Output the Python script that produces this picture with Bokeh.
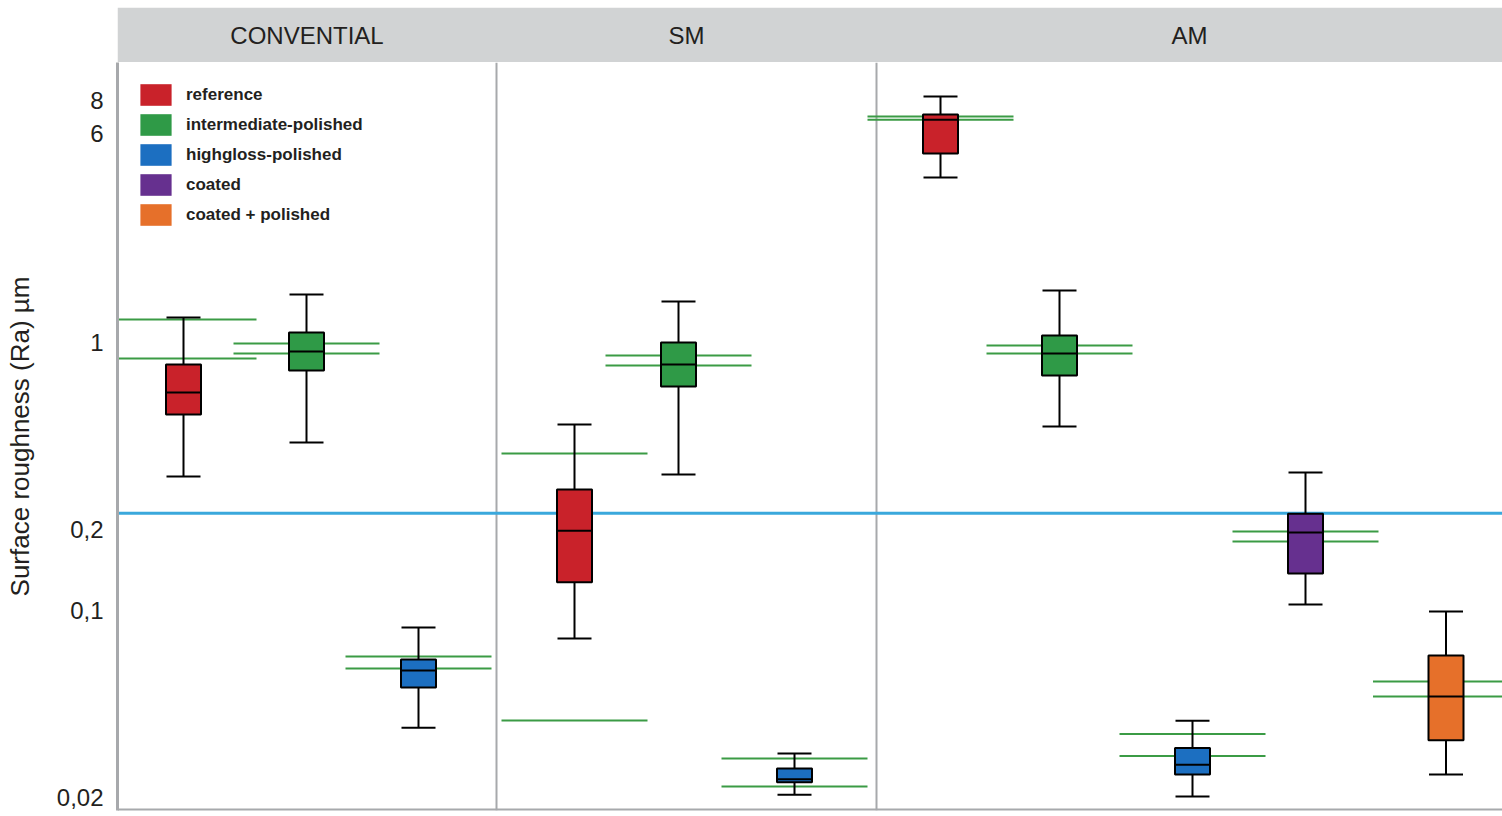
import numpy as np
from bokeh.plotting import figure
from bokeh.models import ColumnDataSource, Range1d, FixedTicker, Span, Legend, LegendItem
from bokeh.layouts import column
from bokeh.embed import file_html
from bokeh.resources import INLINE
from bokeh.core.properties import value

# ---------------- data ----------------
panels = ["CONVENTIAL", "SM", "AM"]
series_names = ["reference", "intermediate-polished", "highgloss-polished",
                "coated", "coated + polished"]
series_colors = ["#c9222a", "#2f9a47", "#1c6fc1", "#66308f", "#e6702a"]

group_panel = ["CONVENTIAL"] * 3 + ["SM"] * 3 + ["AM"] * 5
group_series = ["reference", "intermediate-polished", "highgloss-polished",
                "reference", "intermediate-polished", "highgloss-polished",
                "reference", "intermediate-polished", "highgloss-polished",
                "coated", "coated + polished"]

whisker_hi = [1.235, 1.505, 0.0862, 0.493, 1.417, 0.0292, 8.24, 1.557, 0.0387, 0.326, 0.0989]
q3         = [0.825, 1.086, 0.0655, 0.282, 0.997, 0.0257, 7.06, 1.058, 0.0306, 0.229, 0.0678]
median     = [0.649, 0.922, 0.0596, 0.198, 0.825, 0.0234, 6.75, 0.907, 0.0265, 0.195, 0.0477]
q1         = [0.537, 0.783, 0.0515, 0.127, 0.683, 0.0228, 5.05, 0.751, 0.0244, 0.137, 0.0327]
whisker_lo = [0.315, 0.422, 0.0364, 0.0784, 0.321, 0.0205, 4.11, 0.484, 0.0202, 0.105, 0.0244]
spec_hi    = [1.214, 0.988, 0.0672, 0.384, 0.891, 0.0280, 6.94, 0.971, 0.0345, 0.1966, 0.0542]
spec_lo    = [0.869, 0.907, 0.0606, 0.0388, 0.818, 0.0220, 6.75, 0.907, 0.0286, 0.1804, 0.0477]
threshold = 0.23

y_ticks = [0.02, 0.1, 0.2, 1, 6, 8]
y_tick_labels = ["0,02", "0,1", "0,2", "1", "6", "8"]

# ---------------- layout (positions / sizes) ----------------
panel_edges = [0, 379, 759, 1385]
group_x = [66, 189, 301, 457, 561, 677, 823, 942, 1075, 1188, 1328.5]
box_w = 35
cap_half = 17
spec_half = 73
y_lo, y_hi = 0.0179, 11.04

TEXT = "#231f20"
GRID_GRAY = "#a7a9ac"
FONT = "Liberation Sans"

gx = np.array(group_x, dtype=float)

p = figure(width=1502, height=750, x_range=Range1d(0, panel_edges[-1]),
           y_range=Range1d(y_lo, y_hi), y_axis_type="log",
           output_backend="svg", toolbar_location=None,
           min_border_left=117, min_border_right=0, min_border_top=0, min_border_bottom=2)
p.xaxis.visible = False
p.grid.visible = False
p.outline_line_color = None
p.background_fill_color = "white"

yax = p.yaxis[0]
yax.ticker = FixedTicker(ticks=y_ticks)
yax.major_label_overrides = {t: l for t, l in zip(y_ticks, y_tick_labels)}
yax.axis_line_color = GRID_GRAY
yax.axis_line_width = 3
yax.major_tick_line_color = None
yax.minor_tick_line_color = None
yax.major_label_standoff = 8
yax.major_label_text_font = FONT
yax.major_label_text_font_size = "24px"
yax.major_label_text_color = TEXT
yax.axis_label = "Surface roughness (Ra) µm"
yax.axis_label_text_font = FONT
yax.axis_label_text_font_size = "26px"
yax.axis_label_text_font_style = "normal"
yax.axis_label_text_color = TEXT
yax.axis_label_standoff = 19

# panel dividers, bottom line, threshold
for e in panel_edges[1:-1]:
    p.add_layout(Span(location=e, dimension="height", line_color=GRID_GRAY,
                      line_width=2, level="underlay"))
p.add_layout(Span(location=y_lo, dimension="width", line_color=GRID_GRAY,
                  line_width=4, level="underlay"))
p.add_layout(Span(location=threshold, dimension="width", line_color="#3aa8dc",
                  line_width=3, level="underlay"))

# green reference range lines
p.segment(x0=gx - spec_half, x1=gx + spec_half, y0=spec_hi, y1=spec_hi,
          line_color="#3b9b45", line_width=2)
p.segment(x0=gx - spec_half, x1=gx + spec_half, y0=spec_lo, y1=spec_lo,
          line_color="#3b9b45", line_width=2)

# whiskers + caps
p.segment(x0=gx, x1=gx, y0=q3, y1=whisker_hi, line_color="black", line_width=2)
p.segment(x0=gx, x1=gx, y0=q1, y1=whisker_lo, line_color="black", line_width=2)
p.segment(x0=gx - cap_half, x1=gx + cap_half, y0=whisker_hi, y1=whisker_hi,
          line_color="black", line_width=2)
p.segment(x0=gx - cap_half, x1=gx + cap_half, y0=whisker_lo, y1=whisker_lo,
          line_color="black", line_width=2)

# box fills per series (used for legend)
legend_items = []
for name, col in zip(series_names, series_colors):
    idx = [i for i, s in enumerate(group_series) if s == name]
    src = ColumnDataSource(dict(x=[group_x[i] for i in idx],
                                top=[q3[i] for i in idx],
                                bottom=[q1[i] for i in idx]))
    r = p.vbar(x="x", top="top", bottom="bottom", width=box_w, source=src,
               fill_color=col, line_color=None)
    legend_items.append(LegendItem(label=name, renderers=[r]))

# box outlines + medians
p.vbar(x=gx, top=q3, bottom=q1, width=box_w, fill_color=None,
       line_color="black", line_width=2)
p.segment(x0=gx - box_w / 2, x1=gx + box_w / 2, y0=median, y1=median,
          line_color="black", line_width=2)

legend = Legend(items=legend_items, location="top_left", glyph_width=39, glyph_height=27,
                label_height=27, label_standoff=11, spacing=3, padding=0, margin=19,
                border_line_color=None, background_fill_alpha=0,
                label_text_font=FONT, label_text_font_size="17px",
                label_text_font_style="bold", label_text_color=TEXT)
p.add_layout(legend)

# ---------------- header strip ----------------
h = figure(width=1502, height=62, x_range=p.x_range, y_range=Range1d(0, 1),
           output_backend="svg", toolbar_location=None,
           min_border_left=117, min_border_right=0, min_border_top=7, min_border_bottom=0)
h.axis.visible = False
h.grid.visible = False
h.outline_line_color = None
h.quad(left=panel_edges[0], right=panel_edges[-1], bottom=0, top=1,
       fill_color="#d1d3d4", line_color=None)
centers = [(panel_edges[i] + panel_edges[i + 1]) / 2 for i in range(len(panels))]
h.text(x=centers, y=[0.5] * len(panels), text=panels, text_align="center",
       text_baseline="middle", text_font=value(FONT), text_font_size="24px",
       text_color=TEXT)

layout = column(h, p, spacing=0)
open("out.html", "w").write(file_html(layout, INLINE))
